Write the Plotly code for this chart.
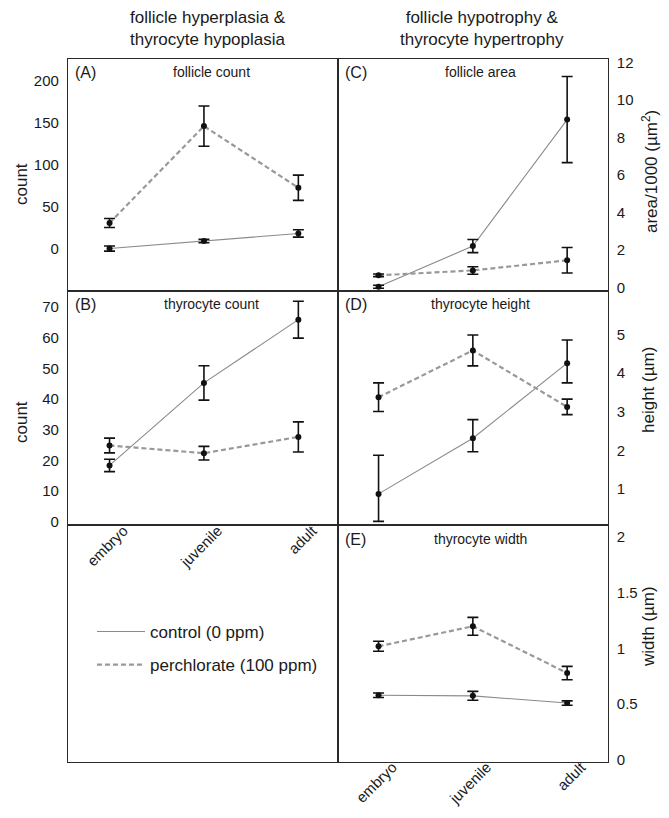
import plotly.graph_objects as go

stages = ["embryo", "juvenile", "adult"]

# (A) follicle count
fc_ctrl = [0, 9, 18]
fc_ctrl_err = [3, 2, 4.4]
fc_perc = [30.5, 146, 72.5]
fc_perc_err = [5.4, 24, 15]

# (B) thyrocyte count
tc_ctrl = [18.4, 45.3, 65.9]
tc_ctrl_err = [2.0, 5.6, 6.0]
tc_perc = [24.9, 22.4, 27.7]
tc_perc_err = [2.4, 2.2, 4.9]

# (C) follicle area / 1000
fa_ctrl = [0.05, 2.22, 8.97]
fa_ctrl_err = [0.08, 0.35, 2.3]
fa_perc = [0.66, 0.92, 1.46]
fa_perc_err = [0.07, 0.2, 0.68]

# (D) thyrocyte height
th_ctrl = [0.88, 2.32, 4.26]
th_ctrl_up = [1.0, 0.48, 0.6]
th_ctrl_dn = [0.71, 0.35, 0.51]
th_perc = [3.38, 4.59, 3.13]
th_perc_err = [0.37, 0.4, 0.2]

# (E) thyrocyte width
tw_ctrl = [0.58, 0.575, 0.51]
tw_ctrl_err = [0.02, 0.04, 0.02]
tw_perc = [1.02, 1.2, 0.78]
tw_perc_err = [0.045, 0.08, 0.06]

FONT = "Liberation Sans, Arial, sans-serif"
TXT = "#1a1a1a"
LINE_GRAY = "#8a8a8a"
DASH_GRAY = "#999999"
FRAME = "#2a2a2a"

fig = go.Figure()


def add_panel(xa, ya, ctrl, ctrl_up, ctrl_dn, perc, perc_up, perc_dn, legend=False):
    fig.add_trace(go.Scatter(x=stages, y=ctrl, mode="lines", xaxis=xa, yaxis=ya,
                             line=dict(color=LINE_GRAY, width=1.1),
                             name="control (0 ppm)", showlegend=legend,
                             legendgroup="c", hoverinfo="skip"))
    fig.add_trace(go.Scatter(x=stages, y=perc, mode="lines", xaxis=xa, yaxis=ya,
                             line=dict(color=DASH_GRAY, width=2.2, dash="5px,3px"),
                             name="perchlorate (100 ppm)", showlegend=legend,
                             legendgroup="p", hoverinfo="skip"))
    for vals, up, dn in ((ctrl, ctrl_up, ctrl_dn), (perc, perc_up, perc_dn)):
        fig.add_trace(go.Scatter(x=stages, y=vals, mode="markers", xaxis=xa, yaxis=ya,
                                 marker=dict(color="#111111", size=6),
                                 error_y=dict(type="data", symmetric=False, array=up,
                                              arrayminus=dn, color="#111111",
                                              thickness=1.6, width=5.5),
                                 showlegend=False))


add_panel("x", "y", fc_ctrl, fc_ctrl_err, fc_ctrl_err, fc_perc, fc_perc_err, fc_perc_err, legend=True)
add_panel("x2", "y2", tc_ctrl, tc_ctrl_err, tc_ctrl_err, tc_perc, tc_perc_err, tc_perc_err)
add_panel("x4", "y4", fa_ctrl, fa_ctrl_err, fa_ctrl_err, fa_perc, fa_perc_err, fa_perc_err)
add_panel("x5", "y5", th_ctrl, th_ctrl_up, th_ctrl_dn, th_perc, th_perc_err, th_perc_err)
add_panel("x6", "y6", tw_ctrl, tw_ctrl_err, tw_ctrl_err, tw_perc, tw_perc_err, tw_perc_err)
# empty trace so the legend panel (bottom-left box) is drawn
fig.add_trace(go.Scatter(x=[None], y=[None], xaxis="x3", yaxis="y3", mode="markers",
                         showlegend=False, hoverinfo="skip"))

# page body has an 8px default margin; the figure fills the rest of the window
OFF = 8
W, H = 669 - OFF, 818 - OFF


def px(x):
    return (x - OFF) / W


def py(y):
    return 1 - (y - OFF) / H


L0, L1, R1 = px(68), px(338), px(607.7)
r1 = [py(290.5), py(59)]
r2 = [py(525), py(290.5)]
r3 = [py(761.5), py(525)]

frame = dict(showline=True, mirror=True, linecolor=FRAME, linewidth=1.3,
             showgrid=False, zeroline=False, ticks="", automargin=False,
             tickfont=dict(family=FONT, size=15, color=TXT))
xr = [-0.44, 2.42]
xr2 = [-0.43, 2.43]

xlab = dict(tickangle=-45, tickvals=stages, ticktext=stages, showticklabels=True,
            ticklabelshift=14, ticklabelstandoff=-10)

fig.update_layout(
    width=W, height=H, autosize=False,
    margin=dict(l=0, r=0, t=0, b=0, pad=0),
    paper_bgcolor="white", plot_bgcolor="white",
    font=dict(family=FONT, color=TXT),
    showlegend=True,
    legend=dict(x=px(92), y=py(614), xanchor="left", yanchor="top",
                bgcolor="rgba(0,0,0,0)", font=dict(family=FONT, size=17, color=TXT),
                tracegroupgap=8, itemwidth=48),
    xaxis=dict(domain=[L0, L1], anchor="y", type="category", range=xr, showticklabels=False, **frame),
    yaxis=dict(domain=r1, anchor="x", range=[-50, 226], tickvals=[0, 50, 100, 150, 200],
               ticklabelstandoff=5, **frame),
    xaxis2=dict(domain=[L0, L1], anchor="y2", type="category", range=xr, **xlab, **frame),
    yaxis2=dict(domain=r2, anchor="x2", range=[-1, 75.4], tickvals=list(range(0, 71, 10)),
                ticklabelstandoff=5, **frame),
    xaxis3=dict(domain=[L0, L1], anchor="y3", range=[0, 1], showticklabels=False, **frame),
    yaxis3=dict(domain=r3, anchor="x3", range=[0, 1], showticklabels=False, **frame),
    xaxis4=dict(domain=[L1, R1], anchor="y4", type="category", range=xr2, showticklabels=False, **frame),
    yaxis4=dict(domain=r1, anchor="x4", side="right", range=[-0.15, 12.2],
                tickvals=list(range(0, 13, 2)), ticklabelstandoff=5, **frame),
    xaxis5=dict(domain=[L1, R1], anchor="y5", type="category", range=xr2, showticklabels=False, **frame),
    yaxis5=dict(domain=r2, anchor="x5", side="right", range=[0.075, 6.14],
                tickvals=[1, 2, 3, 4, 5], ticklabelstandoff=5, **frame),
    xaxis6=dict(domain=[L1, R1], anchor="y6", type="category", range=xr2, **xlab, **frame),
    yaxis6=dict(domain=r3, anchor="x6", side="right", range=[-0.015, 2.11],
                tickvals=[0, 0.5, 1, 1.5, 2], ticktext=["0", "0.5", "1", "1.5", "2"],
                ticklabelstandoff=5, **frame),
)

ann = []
# column titles
ann.append(dict(text="follicle hyperplasia &<br>thyrocyte hypoplasia", x=px(208), y=py(28),
                xref="paper", yref="paper", xanchor="center", yanchor="middle", showarrow=False,
                font=dict(size=17, family=FONT, color=TXT)))
ann.append(dict(text="follicle hypotrophy &<br>thyrocyte hypertrophy", x=px(482), y=py(28),
                xref="paper", yref="paper", xanchor="center", yanchor="middle", showarrow=False,
                font=dict(size=17, family=FONT, color=TXT)))
# panel labels and titles
panels = [("x", "y", "(A)", "follicle count"), ("x2", "y2", "(B)", "thyrocyte count"),
          ("x4", "y4", "(C)", "follicle area"), ("x5", "y5", "(D)", "thyrocyte height"),
          ("x6", "y6", "(E)", "thyrocyte width")]
for xa, ya, lab, title in panels:
    ann.append(dict(text=lab, x=0.02, y=0.985, xref=f"{xa} domain", yref=f"{ya} domain",
                    xanchor="left", yanchor="top", showarrow=False,
                    font=dict(size=16, family=FONT, color=TXT)))
    ann.append(dict(text=title, x=0.53, y=0.985, xref=f"{xa} domain", yref=f"{ya} domain",
                    xanchor="center", yanchor="top", showarrow=False,
                    font=dict(size=14, family=FONT, color=TXT)))
# axis titles
for txt, x, y in (("count", 22, 184), ("count", 22, 422)):
    ann.append(dict(text=txt, x=px(x), y=py(y), xref="paper", yref="paper", textangle=-90,
                    xanchor="center", yanchor="middle",
                    showarrow=False, font=dict(size=17, family=FONT, color=TXT)))
for txt, x, y in (("area/1000 (µm<sup>2</sup>)", 650, 172), ("height (µm)", 648, 390),
                  ("width (µm)", 648, 627)):
    ann.append(dict(text=txt, x=px(x), y=py(y), xref="paper", yref="paper", textangle=-90,
                    xanchor="center", yanchor="middle",
                    showarrow=False, font=dict(size=17, family=FONT, color=TXT)))
fig.update_layout(annotations=ann)

fig.write_html("out.html")
